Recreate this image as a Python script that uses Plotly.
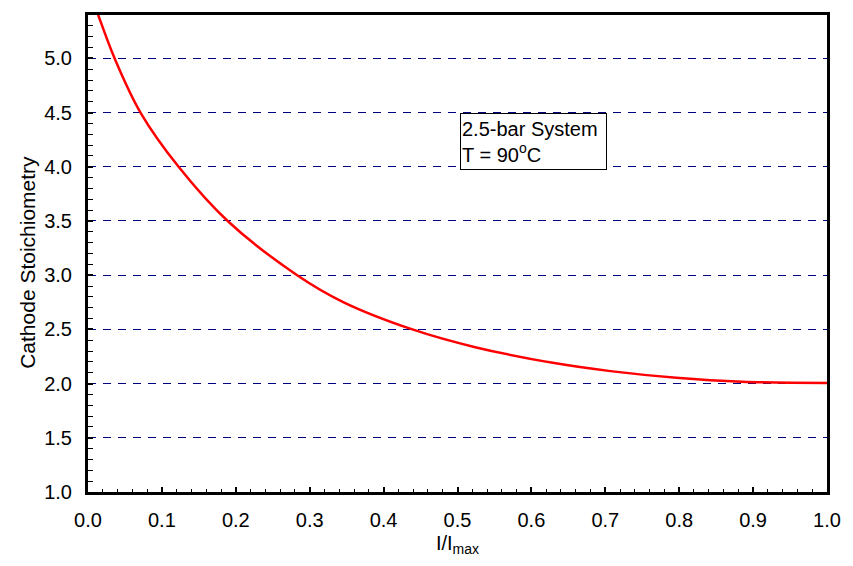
import plotly.graph_objects as go

# Data
x_ratio = [0.01, 0.0138, 0.036, 0.071, 0.1226, 0.189, 0.283, 0.346, 0.439,
           0.524, 0.631, 0.707, 0.796, 0.885, 1.00]
stoich = [5.47, 5.40, 5.00, 4.50, 4.00, 3.50, 3.00, 2.75, 2.50,
          2.336, 2.189, 2.115, 2.054, 2.017, 2.005]

x_ticks = [0.0, 0.1, 0.2, 0.3, 0.4, 0.5, 0.6, 0.7, 0.8, 0.9, 1.0]
y_ticks = [1.0, 1.5, 2.0, 2.5, 3.0, 3.5, 4.0, 4.5, 5.0]

FONT = "Liberation Sans, Arial, sans-serif"

fig = go.Figure()
fig.add_trace(go.Scatter(x=x_ratio, y=stoich, mode="lines",
                         line=dict(color="#ff0000", width=2.5, shape="spline", smoothing=1.0),
                         showlegend=False, cliponaxis=True))

fig.add_annotation(x=0.5035, y=4.494, xref="x", yref="y", xanchor="left", yanchor="top",
                   text="2.5-bar System<br>T = 90<sup>o</sup>C", showarrow=False,
                   align="left", valign="middle", bgcolor="white", bordercolor="black",
                   borderwidth=1, borderpad=1, width=143, height=53,
                   font=dict(family=FONT, size=20, color="black"))

# y-axis title (placed as annotation to match its vertical position)
fig.add_annotation(x=-0.0829, y=0.482, xref="paper", yref="paper",
                   xanchor="center", yanchor="middle", textangle=-90,
                   text="Cathode Stoichiometry", showarrow=False,
                   font=dict(family=FONT, size=21, color="black"))

fig.update_layout(
    width=853, height=566,
    margin=dict(l=88, r=17, t=13, b=74),
    paper_bgcolor="white", plot_bgcolor="white",
    font=dict(family=FONT, size=20, color="black"),
)
fig.update_xaxes(
    range=[0, 1], tickvals=x_ticks, ticktext=[f"{v:.1f}" for v in x_ticks],
    showline=True, linecolor="black", linewidth=3, mirror=True,
    ticks="inside", ticklen=5, tickwidth=1.5, tickcolor="black",
    minor=dict(ticks="inside", dtick=0.02, tick0=0, ticklen=3, tickwidth=1.2, tickcolor="black", showgrid=False),
    showgrid=False, zeroline=False,
    tickfont=dict(family=FONT, size=20, color="black"),
    ticklabelstandoff=8,
    title=dict(text="I/I<sub>max</sub>", font=dict(family=FONT, size=20, color="black"), standoff=6),
)
fig.update_yaxes(
    range=[1, 5.4], tickvals=y_ticks, ticktext=[f"{v:.1f}" for v in y_ticks],
    showline=True, linecolor="black", linewidth=3, mirror=True,
    ticks="inside", ticklen=5, tickwidth=1.5, tickcolor="black",
    minor=dict(ticks="inside", dtick=0.1, tick0=1, ticklen=5, tickwidth=1.2, tickcolor="black", showgrid=False),
    showgrid=True, gridcolor="#000080", gridwidth=1, griddash="8px,7px",
    zeroline=False,
    tickfont=dict(family=FONT, size=20, color="black"),
    ticklabelstandoff=9,
)

fig.write_html("out.html")
